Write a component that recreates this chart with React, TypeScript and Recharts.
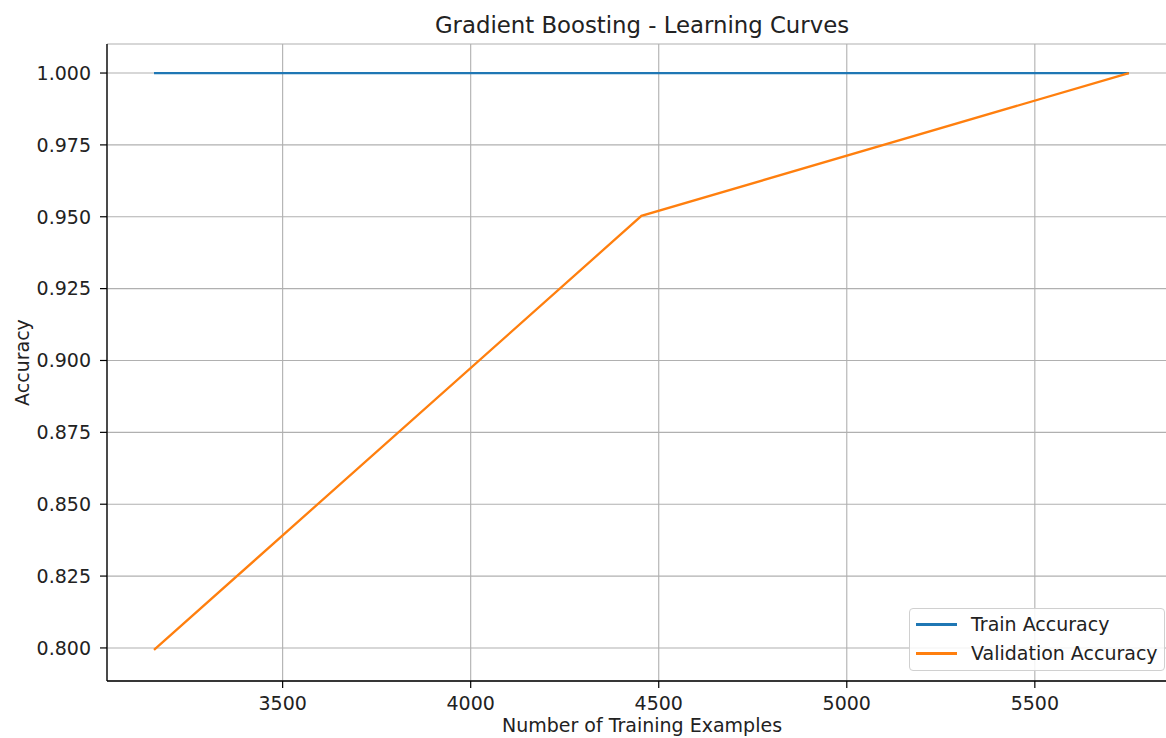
import { LineChart, Line, XAxis, YAxis, CartesianGrid, Legend } from "recharts";

const trainSizes = [3158, 4454, 5750];
const trainAccuracy = [1.0, 1.0, 1.0];
const validationAccuracy = [0.7993, 0.9503, 1.0];

const xTicks = [3500, 4000, 4500, 5000, 5500];
const yTicks = [0.8, 0.825, 0.85, 0.875, 0.9, 0.925, 0.95, 0.975, 1.0];

const FONT = "'DejaVu Sans', sans-serif";
const TEXT = "#222";

const data = trainSizes.map((size, i) => ({
  size,
  train: trainAccuracy[i],
  validation: validationAccuracy[i],
}));

const legendItems = [
  { label: "Train Accuracy", color: "#1f77b4" },
  { label: "Validation Accuracy", color: "#ff7f0e" },
];

const renderLegend = () => (
  <div
    style={{
      position: "relative",
      width: 256,
      height: 63,
      boxSizing: "border-box",
      border: "1px solid #d0d0d0",
      borderRadius: 4,
      background: "rgba(255,255,255,0.85)",
      fontFamily: FONT,
      fontSize: 19,
      color: TEXT,
    }}
  >
    {legendItems.map((item, i) => (
      <div key={item.label}>
        <div
          style={{
            position: "absolute",
            left: 6,
            top: 14 + i * 29,
            width: 41,
            height: 2.5,
            background: item.color,
          }}
        />
        <div
          style={{
            position: "absolute",
            left: 61,
            top: 4 + i * 29,
            lineHeight: "22px",
            whiteSpace: "nowrap",
          }}
        >
          {item.label}
        </div>
      </div>
    ))}
  </div>
);

export default function App() {
  return (
    <div
      style={{
        position: "absolute",
        left: 0,
        top: 0,
        width: 1166,
        height: 738,
        overflow: "hidden",
        background: "#fff",
      }}
    >
      <div
        style={{
          position: "absolute",
          left: 107,
          width: 1070,
          top: 14,
          textAlign: "center",
          fontFamily: FONT,
          fontSize: 22.8,
          lineHeight: "22.8px",
          color: TEXT,
          whiteSpace: "nowrap",
        }}
      >
        Gradient Boosting - Learning Curves
      </div>
      <LineChart
        width={1180}
        height={738}
        data={data}
        margin={{ top: 44, right: 3, bottom: 0, left: 0 }}
        style={{ fontFamily: FONT }}
      >
        <CartesianGrid stroke="#b0b0b0" strokeWidth={1.1} />
        <XAxis
          xAxisId="top"
          orientation="top"
          type="number"
          domain={[0, 1]}
          height={0}
          tick={false}
          tickLine={false}
          axisLine={{ stroke: "#000", strokeWidth: 1.3 }}
        />
        <XAxis
          dataKey="size"
          type="number"
          domain={[3033, 5878]}
          allowDataOverflow
          ticks={xTicks}
          height={57}
          tickSize={7}
          tickMargin={9}
          tick={{ fill: TEXT, fontSize: 19, fontFamily: FONT }}
          tickLine={{ stroke: "#000", strokeWidth: 1.2 }}
          axisLine={{ stroke: "#000", strokeWidth: 1.3 }}
          label={{
            value: "Number of Training Examples",
            position: "insideBottom",
            offset: 6,
            fill: TEXT,
            fontSize: 19,
            fontFamily: FONT,
          }}
        />
        <YAxis
          type="number"
          domain={[0.7885, 1.0101]}
          allowDataOverflow
          ticks={yTicks}
          width={107}
          tickSize={7}
          tickMargin={9}
          tickFormatter={(v: number) => v.toFixed(3)}
          tick={{ fill: TEXT, fontSize: 19, fontFamily: FONT }}
          tickLine={{ stroke: "#000", strokeWidth: 1.2 }}
          axisLine={{ stroke: "#000", strokeWidth: 1.3 }}
          label={{
            value: "Accuracy",
            angle: -90,
            position: "insideLeft",
            offset: 22,
            fill: TEXT,
            fontSize: 19,
            fontFamily: FONT,
            style: { textAnchor: "middle" },
          }}
        />
        <Legend
          layout="horizontal"
          align="center"
          verticalAlign="middle"
          content={renderLegend}
          wrapperStyle={{ left: 909, top: 608, width: 256, height: 63 }}
        />
        <Line
          dataKey="train"
          name="Train Accuracy"
          stroke="#1f77b4"
          strokeWidth={2.3}
          dot={false}
          isAnimationActive={false}
        />
        <Line
          dataKey="validation"
          name="Validation Accuracy"
          stroke="#ff7f0e"
          strokeWidth={2.3}
          dot={false}
          isAnimationActive={false}
        />
      </LineChart>
    </div>
  );
}
